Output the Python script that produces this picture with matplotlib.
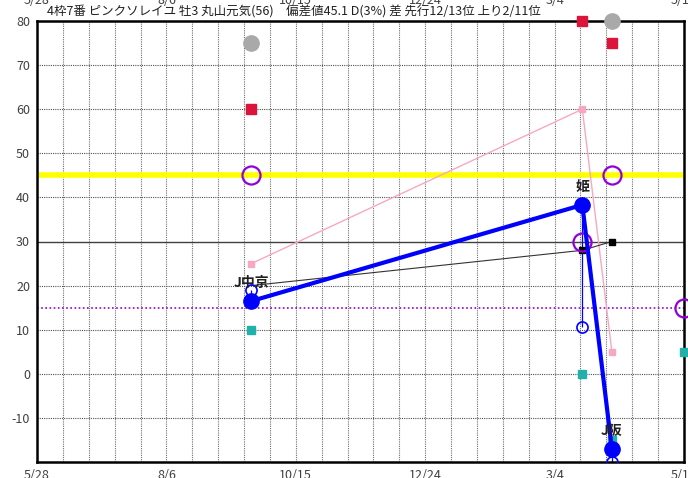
import matplotlib.pyplot as plt
from matplotlib.transforms import blended_transform_factory

plt.rcParams['font.family'] = ['Noto Sans CJK JP', 'DejaVu Sans']

# days counted from 5/28
race_day = [116, 295, 311]
race_name = ['J中京', '姫', 'J阪']
blue_big = [16.5, 38.3, -17]     # main index (thick blue line)
blue_open = [19, 10.5, -20]
black_sq = [20, 28, 30]
pink_sq = [25, 60, 5]
purple_circ = [45, 30, 45]
red_sq = [60, 80, 75]
gray_circ = [75, None, 80]
teal_sq = [10, 0, -15]

edge_day = 350
edge_purple = 15
edge_teal = 5

tick_days = [0, 70, 140, 210, 280, 350]
tick_labels = ['5/28', '8/6', '10/15', '12/24', '3/4', '5/13']
deviation = 45.1
avg_line = 15

title = '4枠7番 ピンクソレイユ 牡3 丸山元気(56)　偏差値45.1 D(3%) 差 先行12/13位 上り2/11位'

fig = plt.figure(figsize=(6.88, 4.78), dpi=100)
ax = fig.add_axes([37/688, 16/478, 647/688, 441/478])
ax.set_xlim(0, 350)
ax.set_ylim(-20, 80)

# grid
for d in range(0, 351, 14):
    ax.axvline(d, color='#707070', lw=0.8, ls=(0, (1, 1)), zorder=0)
for v in range(-10, 81, 10):
    if v == 30:
        ax.axhline(v, color='#404040', lw=1.0, zorder=0)
    else:
        ax.axhline(v, color='#505050', lw=0.8, ls=(0, (1, 1)), zorder=0)

ax.axhline(deviation - 0.1, color='#ffff00', lw=4, zorder=1)
ax.axhline(avg_line, color='#9400d3', lw=1.2, ls=(0, (1, 1.5)), zorder=1)

ax.plot(race_day, pink_sq, color='#f7a8c0', lw=1, marker='s', ms=4, zorder=2)
ax.plot(race_day, black_sq, color='#333333', lw=0.8, zorder=2)
ax.plot(race_day[1:], black_sq[1:], ls='none', color='black', marker='s', ms=4, zorder=3)
ax.vlines(race_day, blue_big, blue_open, color='#0000ff', lw=0.9, zorder=2)
ax.plot(race_day, blue_open, ls='none', marker='o', ms=8, mfc='none', mec='#0000ff', mew=1.2, zorder=3)
ax.plot(race_day, teal_sq, ls='none', marker='s', ms=6, color='#20b2aa', zorder=3)
ax.plot(race_day, red_sq, ls='none', marker='s', ms=7, color='#dc143c', zorder=4, clip_on=False)
gx = [d for d, g in zip(race_day, gray_circ) if g is not None]
gy = [g for g in gray_circ if g is not None]
ax.plot(gx, gy, ls='none', marker='o', ms=11, color='#a9a9a9', zorder=3, clip_on=False)
ax.plot(race_day, purple_circ, ls='none', marker='o', ms=13, mfc='none', mec='#9400d3', mew=1.6, zorder=4)
ax.plot(race_day, blue_big, color='#0000ff', lw=3, marker='o', ms=11, zorder=5)

ax.plot([edge_day], [edge_purple], ls='none', marker='o', ms=13, mfc='none', mec='#9400d3', mew=1.6, zorder=4, clip_on=False)
ax.plot([edge_day], [edge_teal], ls='none', marker='s', ms=6, color='#20b2aa', zorder=3, clip_on=False)

for d, v, n in zip(race_day, blue_big, race_name):
    ax.text(d, v + 2.5, n, ha='center', va='bottom', fontsize=10, fontweight='bold', color='#202020', zorder=6)

ax.set_xticks(tick_days)
ax.set_xticklabels(tick_labels, fontsize=9, color='#404040')
ax.set_yticks(range(-10, 81, 10))
ax.set_yticklabels([str(v) for v in range(-10, 81, 10)], fontsize=9, color='#404040')
ax.tick_params(length=0, pad=5)
for s in ax.spines.values():
    s.set_linewidth(1.8)

tr = blended_transform_factory(ax.transData, fig.transFigure)
for d, lab in zip(tick_days, tick_labels):
    ax.text(d, 1.0, lab, transform=tr, ha='center', va='center', fontsize=9, color='#404040', clip_on=False)

fig.text(47/688, 1 - 12/478, title, ha='left', va='center', fontsize=9, color='#202020')

fig.savefig('out.png', dpi=100)
